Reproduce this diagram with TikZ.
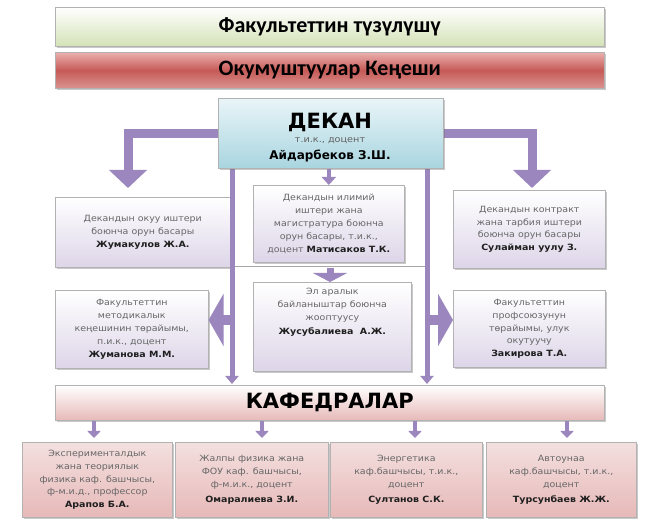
\documentclass[tikz,border=0pt]{standalone}
\usepackage{fontspec}
\setmainfont{DejaVu Sans}
\newfontfamily\bodyfont[FakeStretch=1.1]{DejaVu Sans}
\newfontfamily\titlefont{Carlito}
\usetikzlibrary{shadows,arrows.meta}
\definecolor{arrc}{HTML}{9B87BE}
\definecolor{lav}{HTML}{DDD5E8}
\definecolor{pinkb}{HTML}{E6B9B8}
\definecolor{greenb}{HTML}{D3E2B6}
\definecolor{redm}{HTML}{C55A57}
\definecolor{redt}{HTML}{EBB0AE}
\definecolor{redb}{HTML}{DB9390}
\definecolor{cyant}{HTML}{E9F5F8}
\definecolor{cyanb}{HTML}{A9D5E0}
\newcommand\pname[1]{{\bfseries\color{black!88}#1}}
\begin{document}
\begin{tikzpicture}[x=1pt,y=-1pt,
  shad/.style={drop shadow={shadow xshift=2pt,shadow yshift=-2pt,opacity=0.35,fill=black!60}},
  bar/.style={draw=black!30, line width=0.6pt, shad, inner sep=0pt, anchor=north west},
  btext/.style={align=center, font=\bodyfont\fontsize{8.6}{12.8}\selectfont, text=black!60},
  box/.style={bar, top color=white, bottom color=lav, btext},
  kbox/.style={bar, top color=pinkb!45, bottom color=pinkb, btext},
  bigarr/.style={draw=arrc, line join=miter},
  smallarr/.style={draw=arrc, line width=4pt, -{Triangle[width=13pt,length=7pt]}, arrc},
]
\useasboundingbox[fill=white] (0,0) rectangle (651,526);

% titles
\node[bar, top color=white, bottom color=greenb, minimum width=549, minimum height=39,
  font=\titlefont\fontsize{22}{24}\selectfont\bfseries] (T1) at (55,7) {Факультеттин түзүлүшү};
\node[bar, top color=redt, bottom color=redb, middle color=redm, minimum width=549, minimum height=36,
  font=\titlefont\fontsize{22}{24}\selectfont\bfseries] (T2) at (55,52) {Окумуштуулар Кеңеши};

% coordinates
\coordinate (VL) at (232,0);
\coordinate (VR) at (427,0);
\coordinate (LA) at (128,188);
\coordinate (RA) at (532,188);
\coordinate (HL) at (232,267);
\coordinate (HR) at (427,267);

% boxes
\node[box, minimum width=175, minimum height=70] (L1) at (55,197)
  {Декандын окуу иштери\\боюнча орун басары\\\pname{Жумакулов Ж.А.}};
\node[box, minimum width=151, minimum height=77] (M1) at (253,185)
  {Декандын илимий\\иштери жана\\магистратура боюнча\\орун басары, т.и.к.,\\доцент \pname{Матисаков Т.К.}};
\node[box, minimum width=152, minimum height=78] (R1) at (453,190)
  {Декандын контракт\\жана тарбия иштери\\боюнча орун басары\\\pname{Сулайман уулу З.}};
\node[box, minimum width=153, minimum height=78] (L2) at (55,290)
  {Факультеттин\\методикалык\\кеңешинин төрайымы,\\п.и.к., доцент\\\pname{Жуманова М.М.}};
\node[box, minimum width=158, minimum height=89] (M2) at (253,282) {};
\node[btext, anchor=north, inner sep=0pt]
  (M2t) at ([yshift=-6pt]M2.north)
  {Эл аралык\\байланыштар боюнча\\жооптуусу\\[2pt]\pname{Жусубалиева\ \ А.Ж.}};
\node[box, minimum width=152, minimum height=77] (R2) at (453,290)
  {Факультеттин\\профсоюзунун\\төрайымы, улук\\окутуучу\\\pname{Закирова Т.А.}};

% connectors among middle
\draw[black!35, line width=2pt] (HL) -- (HR);
\draw[white, line width=0.7pt] (HL) -- (HR);
\draw[arrc, line width=5pt, -{Triangle[width=13pt,length=8pt]}] (232,168) -- (232,384);
\draw[arrc, line width=5pt, -{Triangle[width=13pt,length=8pt]}] (427,168) -- (427,384);
\draw[arrc, line width=7pt, -{Triangle[width=34pt,length=9pt]}] (330,268) -- (M2.north -| 330,0);
\draw[arrc, line width=10pt, -{Triangle[width=52pt,length=15pt]}] (VL |- 0,320) -- (L2.east |- 0,320);
\draw[arrc, line width=10pt, -{Triangle[width=52pt,length=15pt]}] (VR |- 0,320) -- (R2.west |- 0,320);

% dean
\draw[bigarr, line width=9pt, -{Triangle[width=37pt,length=18pt]}, arrc] (300,134) -| (LA);
\draw[bigarr, line width=9pt, -{Triangle[width=37pt,length=18pt]}, arrc] (360,134) -| (RA);
\node[bar, top color=cyant, bottom color=cyanb, minimum width=225, minimum height=70] (D) at (218,98) {};
\node[font=\bfseries\fontsize{21}{24}\selectfont, inner sep=0pt, anchor=base] (Dt) at (330,129) {ДЕКАН};
\node[font=\bodyfont\fontsize{8.8}{10}\selectfont, text=black!62, inner sep=0pt, anchor=base] (Dd) at (330,143) {т.и.к., доцент};
\node[font=\bfseries\fontsize{12}{13}\selectfont, inner sep=0pt, anchor=base] (Dn) at (330,160) {Айдарбеков З.Ш.};
\draw[arrc, line width=4pt, -{Triangle[width=14pt,length=8pt]}] (D.south -| M1.north) -- (M1.north);

% кафедралар
\node[bar, top color=white, bottom color=pinkb, minimum width=549, minimum height=35,
  font=\bfseries\fontsize{21}{24}\selectfont] (K) at (55,385) {КАФЕДРАЛАР};

\node[kbox, minimum width=150, minimum height=75] (B1) at (22,442)
  {Эксперименталдык\\жана теориялык\\физика каф. башчысы,\\ф-м.и.д., профессор\\\pname{Арапов Б.А.}};
\node[kbox, minimum width=153, minimum height=75] (B2) at (175,442)
  {Жалпы физика жана\\ФОУ каф. башчысы,\\ф-м.и.к., доцент\\[2pt]\pname{Омаралиева З.И.}};
\node[kbox, minimum width=152, minimum height=75] (B3) at (330,442)
  {Энергетика\\каф.башчысы, т.и.к.,\\доцент\\[2pt]\pname{Султанов С.К.}};
\node[kbox, minimum width=150, minimum height=75] (B4) at (486,442)
  {Автоунаа\\каф.башчысы, т.и.к.,\\доцент\\[2pt]\pname{Турсунбаев Ж.Ж.}};

\draw[smallarr] (K.south -| 94,0) -- ([yshift=4pt]B1.north -| 94,0);
\draw[smallarr] (K.south -| 262,0) -- ([yshift=4pt]B2.north -| 262,0);
\draw[smallarr] (K.south -| 415,0) -- ([yshift=4pt]B3.north -| 415,0);
\draw[smallarr] (K.south -| 567,0) -- ([yshift=4pt]B4.north -| 567,0);
\end{tikzpicture}
\end{document}
